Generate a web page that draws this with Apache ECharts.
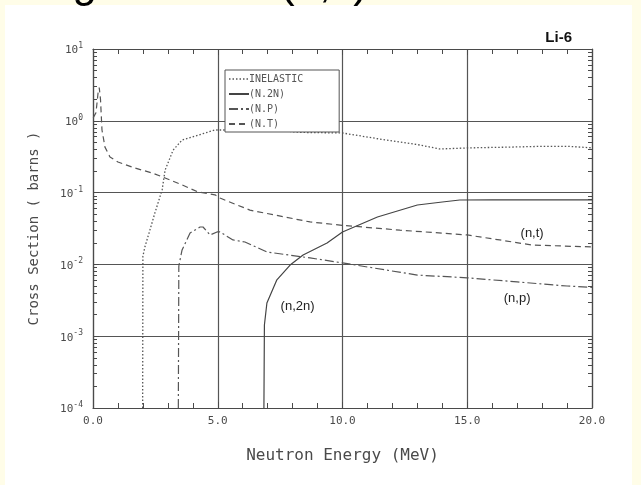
<!DOCTYPE html>
<html>
<head>
    <meta charset="utf-8">
    <title>Li-6 cross sections</title>
    <script src="https://cdn.jsdelivr.net/npm/echarts@6/dist/echarts.min.js"></script>
    <style>
        body { margin: 0; background: #fffde8; }
    </style>
</head>
<body>
    <div id="chart" style="width: 641px;height:485px;"></div>

    <script>
        // data: [energy MeV, cross section barns]
        const inelastic = [
            [1.99, 1e-4], [2.0, 0.013], [2.08, 0.0175], [2.28, 0.030], [2.48, 0.052],
            [2.77, 0.109], [2.89, 0.206], [3.21, 0.39], [3.57, 0.54], [3.97, 0.594],
            [4.49, 0.676], [4.89, 0.745], [5.5, 0.745], [7.5, 0.73], [8.3, 0.69],
            [10.0, 0.676], [11.5, 0.557], [12.3, 0.507], [13.1, 0.46], [13.9, 0.405],
            [15.1, 0.42], [16.7, 0.43], [17.9, 0.44], [19.1, 0.44], [20.0, 0.42]
        ];
        const n2n = [
            [6.85, 1e-4], [6.87, 0.00143], [6.97, 0.0029], [7.37, 0.0061], [7.9, 0.0098],
            [8.42, 0.0135], [9.38, 0.0199], [10.0, 0.0283], [11.4, 0.0457], [13.0, 0.0672],
            [14.0, 0.074], [14.7, 0.0789], [16.0, 0.079], [20.0, 0.079]
        ];
        const np = [
            [3.42, 1e-4], [3.44, 0.0095], [3.57, 0.0159], [3.89, 0.0274], [4.29, 0.0332],
            [4.41, 0.0332], [4.69, 0.0257], [4.97, 0.0283], [5.09, 0.0283], [5.61, 0.0219],
            [6.09, 0.0205], [6.97, 0.0149], [8.7, 0.0123], [10.0, 0.0105], [11.0, 0.0092],
            [13.0, 0.0071], [15.0, 0.0065], [17.0, 0.0057], [19.0, 0.0050], [20.0, 0.0048]
        ];
        const nt = [
            [0.01, 1.1], [0.12, 1.3], [0.2, 2.4], [0.25, 2.9], [0.3, 2.0], [0.36, 0.745],
            [0.48, 0.43], [0.68, 0.313], [1.0, 0.267], [1.68, 0.22], [2.36, 0.188],
            [2.89, 0.16], [3.57, 0.128], [4.21, 0.102], [4.89, 0.093], [5.09, 0.084],
            [6.29, 0.057], [8.7, 0.039], [10.0, 0.035], [12.3, 0.030], [15.0, 0.0257],
            [16.3, 0.0219], [17.6, 0.0186], [20.0, 0.0175]
        ];
        const xTicks = [0, 5, 10, 15, 20];
        const decades = [-4, -3, -2, -1, 0, 1];

        // log minor tick positions 2..9 in each decade
        const minorVals = [];
        decades.slice(0, -1).forEach(function (d) {
            for (let k = 2; k <= 9; k++) minorVals.push(k * Math.pow(10, d));
        });

        const ink = '#4a4a4a';
        const mono = '"DejaVu Sans Mono", "Liberation Mono", monospace';

        const dotted = [1.5, 2];
        const dashDot = [9, 3, 2, 3];
        const dashed = [6, 4];

        const chart = echarts.init(document.getElementById('chart'));

        // curve annotation placed at a data coordinate
        const markLabel = function (text, coord) {
            return {
                symbol: 'circle',
                symbolSize: 1,
                silent: true,
                itemStyle: { color: 'rgba(0,0,0,0)' },
                label: {
                    show: true, position: 'inside', formatter: text,
                    color: '#222', fontSize: 13, fontFamily: 'Arial, "Liberation Sans"'
                },
                data: [{ coord: coord }]
            };
        };

        const option = {
            backgroundColor: '#fffde8',
            animation: false,
            graphic: [
                { type: 'rect', z: -10, shape: { x: 5, y: 5, width: 627, height: 480 }, style: { fill: '#ffffff' } },
                { type: 'text', x: 97, y: 7, style: { text: 'Big', font: '44px "Liberation Sans", Arial', fill: '#000', align: 'right', verticalAlign: 'bottom' } },
                { type: 'text', x: 280, y: 7, style: { text: '(n,x)', font: '44px "Liberation Sans", Arial', fill: '#000', align: 'left', verticalAlign: 'bottom' } },
                { type: 'text', x: 572, y: 38, style: { text: 'Li-6', font: 'bold 15px "Liberation Sans", Arial', fill: '#111', align: 'right', verticalAlign: 'middle' } }
            ],
            grid: { left: 93, right: 49, top: 49, bottom: 77 },
            legend: {
                orient: 'vertical',
                left: 225,
                top: 70,
                padding: [4, 36, 3, 3],
                itemWidth: 20,
                itemHeight: 10,
                itemGap: 5,
                backgroundColor: '#fff',
                borderColor: '#555',
                borderWidth: 1,
                borderRadius: 0,
                itemStyle: { opacity: 0 },
                textStyle: { fontFamily: mono, fontSize: 10, color: '#555', padding: [0, 0, 0, -5] },
                data: [
                    { name: 'INELASTIC', lineStyle: { type: dotted, width: 1.3 } },
                    { name: '(N.2N)', lineStyle: { type: 'solid' } },
                    { name: '(N.P)', lineStyle: { type: dashDot } },
                    { name: '(N.T)', lineStyle: { type: dashed } }
                ]
            },
            xAxis: [{
                type: 'value',
                min: 0,
                max: 20,
                interval: 5,
                name: 'Neutron Energy (MeV)',
                nameLocation: 'middle',
                nameGap: 40,
                nameTextStyle: { fontFamily: mono, fontSize: 16, color: ink },
                axisLine: { lineStyle: { color: ink, width: 1.2 } },
                axisTick: { inside: true, length: 6, lineStyle: { color: ink } },
                minorTick: { show: true, splitNumber: 5, length: 5, lineStyle: { color: ink } },
                axisLabel: {
                    fontFamily: mono, fontSize: 11, color: ink, margin: 8,
                    customValues: xTicks,
                    formatter: function (v) { return v.toFixed(1); }
                },
                splitLine: { show: true, lineStyle: { color: '#555', width: 1.2 } }
            }, {
                type: 'value',
                min: 0,
                max: 20,
                interval: 5,
                position: 'top',
                axisLine: { lineStyle: { color: ink, width: 1.2 } },
                axisTick: { inside: true, length: 6, lineStyle: { color: ink } },
                minorTick: { show: true, splitNumber: 5, length: 5, lineStyle: { color: ink } },
                axisLabel: { show: false },
                splitLine: { show: false }
            }],
            yAxis: [{
                type: 'log',
                logBase: 10,
                min: 1e-4,
                max: 10,
                name: 'Cross Section ( barns )',
                nameLocation: 'middle',
                nameGap: 52,
                nameTextStyle: { fontFamily: mono, fontSize: 14, color: ink },
                axisLine: { show: true, lineStyle: { color: ink, width: 1.2 } },
                axisTick: { inside: true, length: 6, lineStyle: { color: ink } },
                axisLabel: {
                    margin: 10,
                    formatter: function (v) {
                        return '{b|10}{s|' + Math.round(Math.log10(v)) + '}';
                    },
                    rich: {
                        b: { fontFamily: mono, fontSize: 11, color: ink, lineHeight: 14, verticalAlign: 'bottom' },
                        s: { fontFamily: mono, fontSize: 8, color: ink, verticalAlign: 'top' }
                    }
                },
                splitLine: { show: true, lineStyle: { color: '#555', width: 1.2 } }
            }, {
                type: 'log',
                logBase: 10,
                min: 1e-4,
                max: 10,
                position: 'left',
                axisLine: { show: false },
                axisTick: { inside: true, length: 4, customValues: minorVals, lineStyle: { color: ink } },
                axisLabel: { show: false },
                splitLine: { show: false }
            }, {
                type: 'log',
                logBase: 10,
                min: 1e-4,
                max: 10,
                position: 'right',
                axisLine: { show: true, lineStyle: { color: ink, width: 1.2 } },
                axisTick: { inside: true, length: 4, customValues: minorVals, lineStyle: { color: ink } },
                axisLabel: { show: false },
                splitLine: { show: false }
            }],
            series: [{
                name: 'INELASTIC',
                type: 'line',
                symbol: 'none',
                data: inelastic,
                lineStyle: { color: '#555', width: 1.3, type: dotted },
                itemStyle: { color: '#555' }
            }, {
                name: '(N.2N)',
                type: 'line',
                symbol: 'none',
                data: n2n,
                lineStyle: { color: '#444', width: 1.2, type: 'solid' },
                itemStyle: { color: '#444' },
                markPoint: markLabel('(n,2n)', [8.2, 0.0026])
            }, {
                name: '(N.P)',
                type: 'line',
                symbol: 'none',
                data: np,
                lineStyle: { color: '#555', width: 1.2, type: dashDot },
                itemStyle: { color: '#555' },
                markPoint: markLabel('(n,p)', [17.0, 0.0034])
            }, {
                name: '(N.T)',
                type: 'line',
                symbol: 'none',
                data: nt,
                lineStyle: { color: '#555', width: 1.2, type: dashed },
                itemStyle: { color: '#555' },
                markPoint: markLabel('(n,t)', [17.6, 0.0274])
            }]
        };

        chart.setOption(option);
    </script>
</body>
</html>
